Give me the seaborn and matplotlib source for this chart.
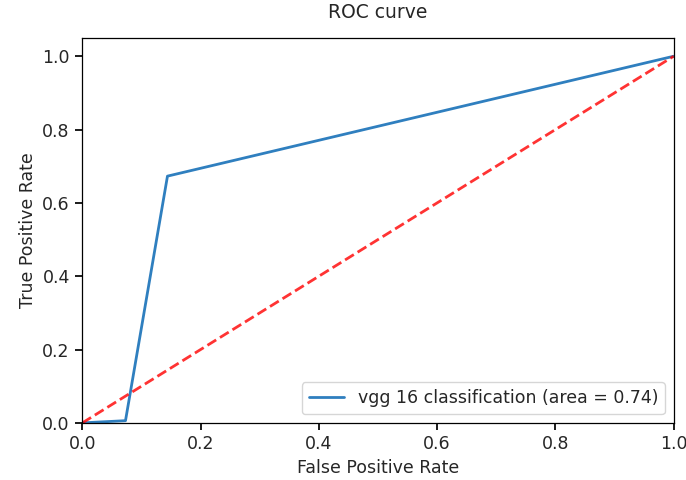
import matplotlib
matplotlib.use("Agg")
import matplotlib.pyplot as plt
import pandas as pd
import seaborn as sns

# ROC points
fpr = [0.0, 0.073, 0.144, 1.0]
tpr = [0.0, 0.006, 0.673, 1.0]
chance = [0.0, 1.0]
label = "vgg 16 classification (area = 0.74)"

sns.set_theme(style="ticks", context="notebook")
plt.rcParams["font.family"] = ["DejaVu Sans"]
plt.rcParams.update({
    "xtick.labelsize": 12.5,
    "ytick.labelsize": 12.5,
    "axes.labelsize": 12.5,
    "axes.titlesize": 13.5,
    "legend.fontsize": 12.5,
})

roc = pd.DataFrame({"fpr": fpr, "tpr": tpr})

fig = plt.figure(figsize=(6.86, 4.8), dpi=100)
ax = fig.add_axes([0.12, 0.119, 0.862, 0.802])
sns.lineplot(data=roc, x="fpr", y="tpr", sort=False, estimator=None,
             color="#2f7fbf", linewidth=2.0, label=label, ax=ax)
ax.plot(chance, chance, color="red", linestyle="--", linewidth=2.0, alpha=0.8)

ax.set_xlim(0.0, 1.0)
ax.set_ylim(0.0, 1.05)
ax.set_xlabel("False Positive Rate")
ax.set_ylabel("True Positive Rate")
ax.set_title("ROC curve", pad=14)
for s in ax.spines.values():
    s.set_color("black")
    s.set_linewidth(0.9)
ax.tick_params(direction="out", length=5, color="black", pad=4)
ax.legend(loc="lower right")

fig.savefig("out.png", dpi=100)
